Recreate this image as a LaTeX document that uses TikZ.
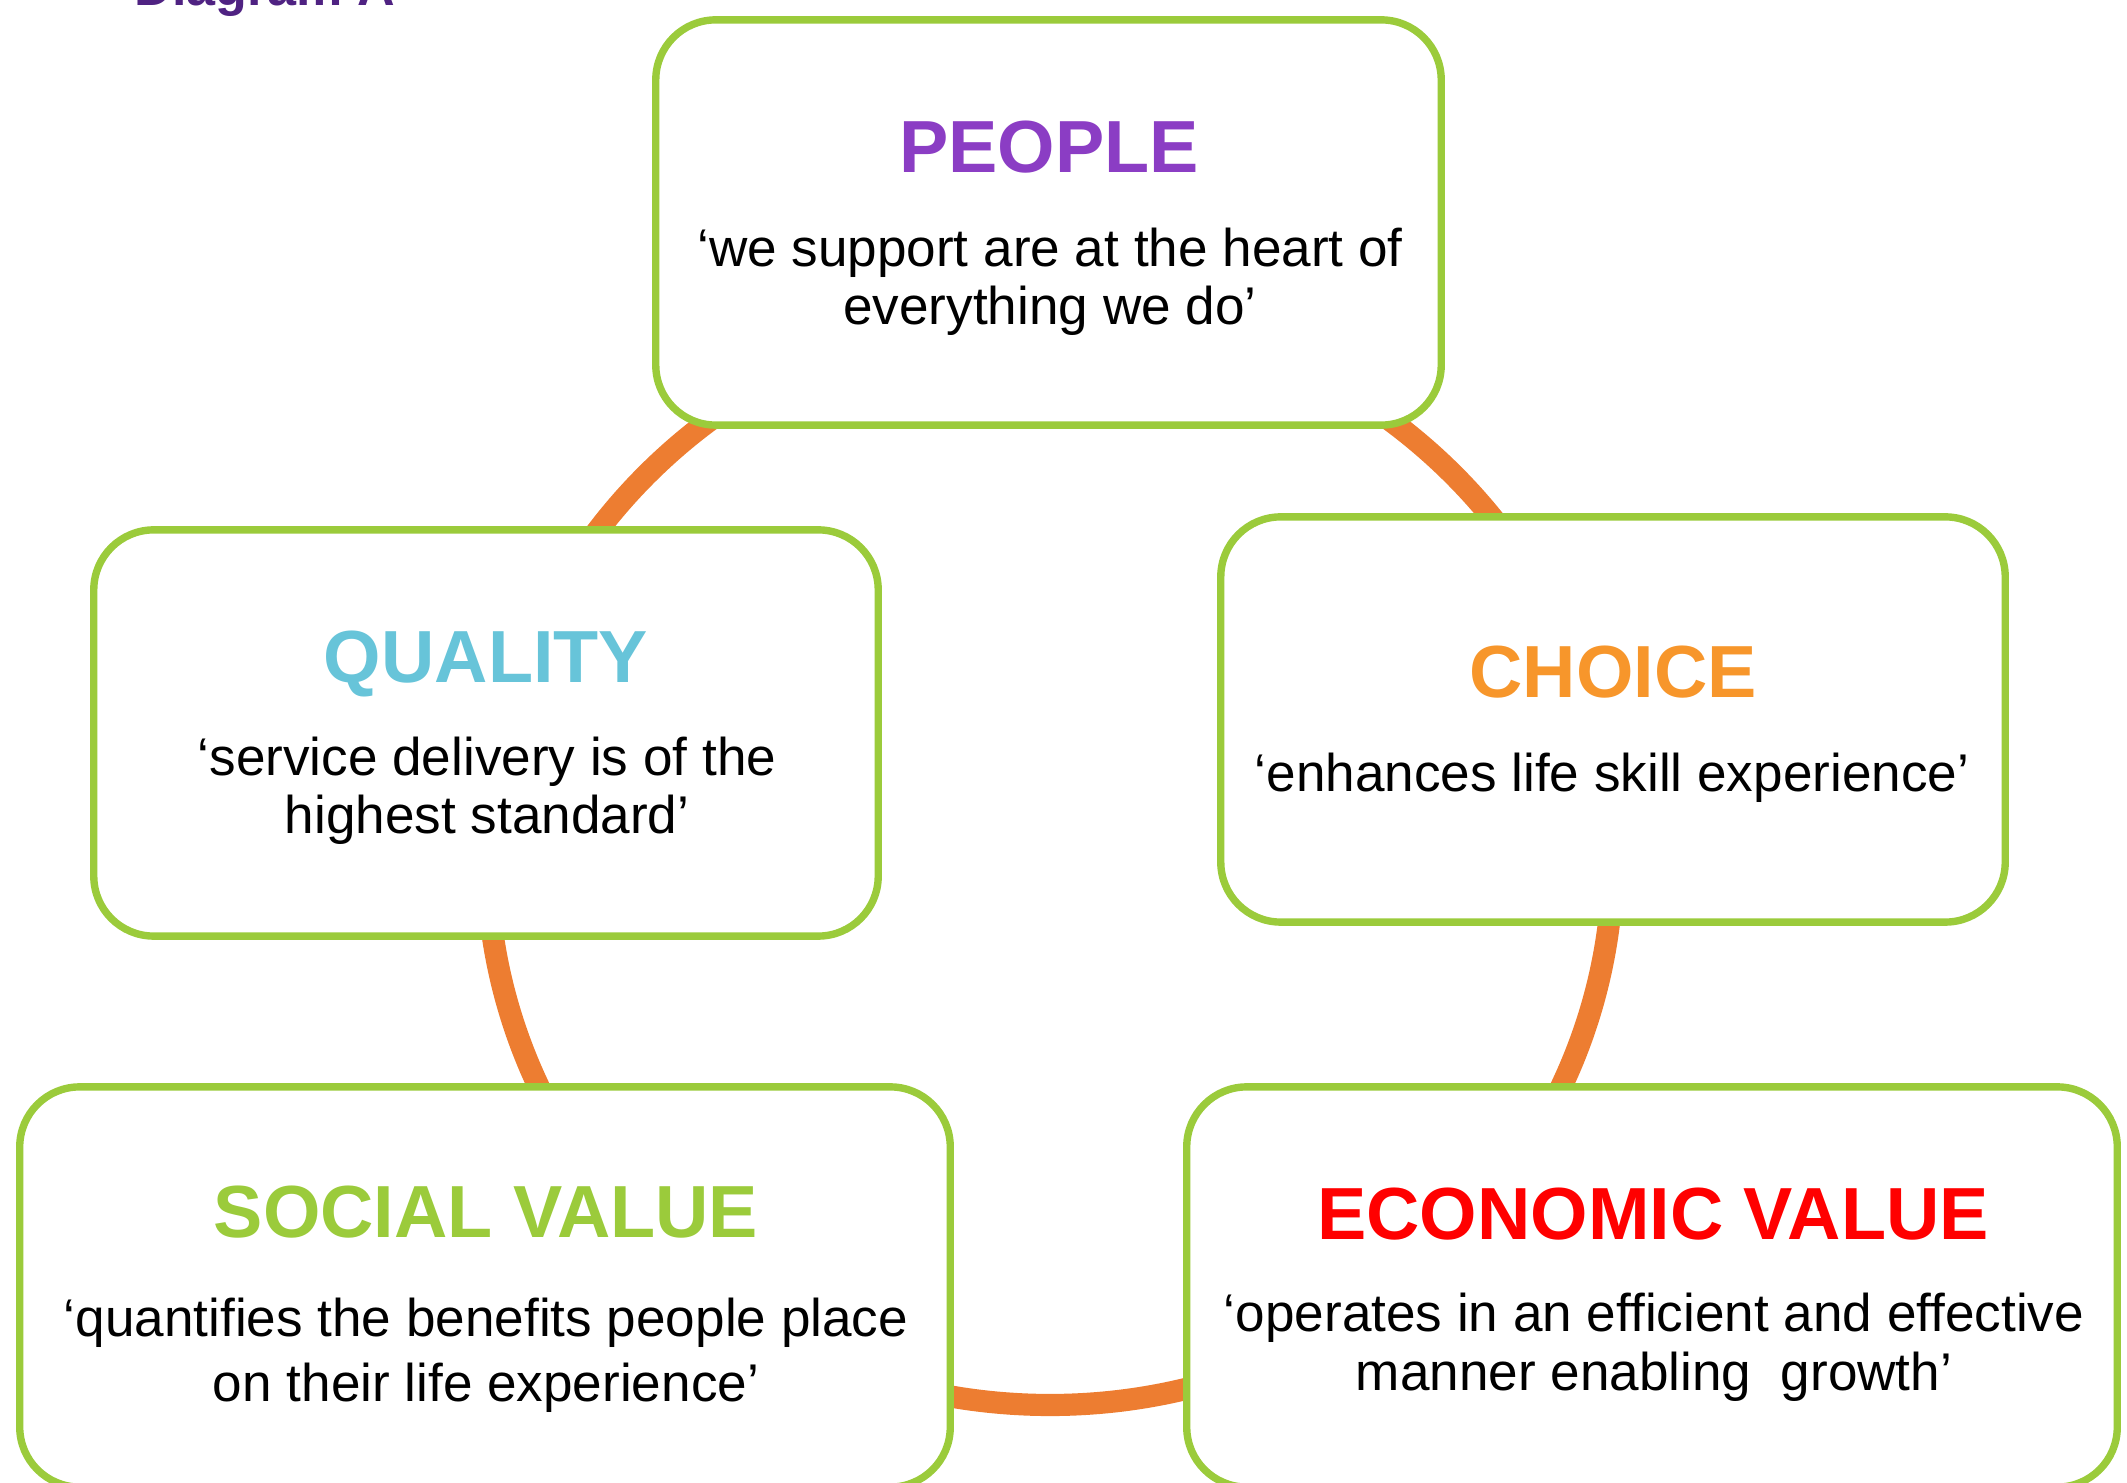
\documentclass[tikz,border=0pt]{standalone}
\usepackage{fontspec}
\setmainfont{Liberation Sans}

\definecolor{ringorange}{HTML}{ED7D31}
\definecolor{boxgreen}{HTML}{9BCB3B}
\definecolor{titlepurple}{HTML}{4F2282}
\definecolor{peoplepurple}{HTML}{8B3DC4}
\definecolor{qualityblue}{HTML}{67C4D9}
\definecolor{choiceorange}{HTML}{F7962B}
\definecolor{econred}{HTML}{FF0000}

\begin{document}
\begin{tikzpicture}[x=0.01cm,y=-0.01cm,
  box/.style={draw=boxgreen,line width=2.1pt,fill=white,rounded corners=0.6cm,inner sep=0pt},
  head/.style={anchor=base,inner sep=0pt,font=\fontsize{21}{24}\selectfont\bfseries},
  body/.style={anchor=base,inner sep=0pt,align=center,font=\fontsize{15.1}{16.5}\selectfont}]
% Page frame
\useasboundingbox (0,0) rectangle (2127,1483);
\clip (0,0) rectangle (2127,1483);

% Title, cut off at the top edge
\node[anchor=base west,inner sep=0pt,text=titlepurple,font=\fontsize{14.8}{17}\selectfont\bfseries] (title) at (134,6) {Diagram A};

% Ring behind the boxes
\coordinate (hub) at (1050,857);
\draw[ringorange,line width=6.3pt] (hub) ellipse [x radius=563, y radius=548];

% Boxes
\node[box,minimum width=7.85cm,minimum height=4.05cm] (people) at (1048.5,222.5) {};
\node[box,minimum width=7.84cm,minimum height=4.06cm] (quality) at (486,733) {};
\node[box,minimum width=7.84cm,minimum height=4.05cm] (choice) at (1613,719.5) {};
\node[box,minimum width=9.30cm,minimum height=4.00cm] (social) at (485,1287) {};
\node[box,minimum width=9.30cm,minimum height=4.00cm] (econ) at (1652,1287) {};

% Headings
\node[head,text=peoplepurple] (peopleT) at (1049,173) {PEOPLE};
\node[head,text=qualityblue] (qualityT) at (486,683) {QUALITY};
\node[head,text=choiceorange] (choiceT) at (1613,698) {CHOICE};
\node[head,text=boxgreen] (socialT) at (486,1238) {SOCIAL VALUE};
\node[head,text=econred] (econT) at (1653,1240) {ECONOMIC VALUE};

% Quotes (base = last line)
\node[body] (peopleB) at (1050,325) {‘we support are at the heart of\\everything we do’};
\node[body] (qualityB) at (487,834) {‘service delivery is of the\\highest standard’};
\node[body] (choiceB) at (1612,792) {‘enhances life skill experience’};
\node[body,font=\fontsize{15.1}{18.2}\selectfont] (socialB) at (486,1401) {‘quantifies the benefits people place\\on their life experience’};
\node[body] (econB) at (1654,1390) {‘operates in an efficient and effective\\manner enabling~ growth’};
\end{tikzpicture}
\end{document}
